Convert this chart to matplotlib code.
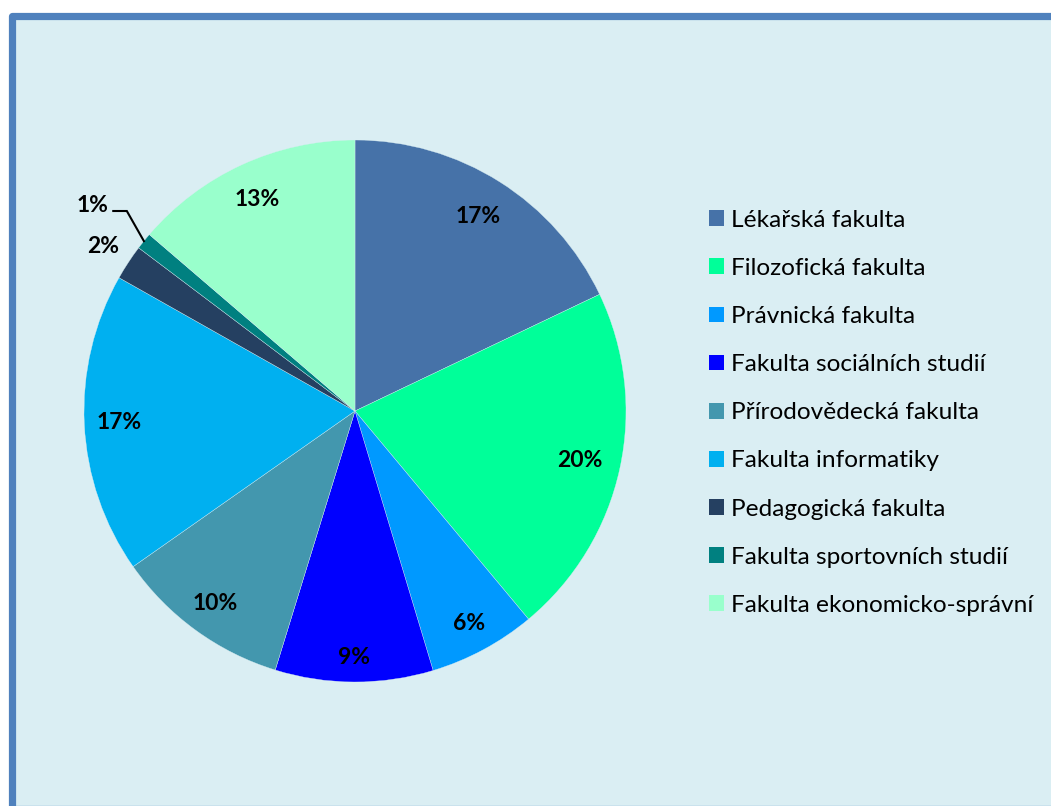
import numpy as np
import matplotlib.pyplot as plt
from matplotlib.patches import Rectangle, Patch

# Faculty shares (percent)
faculties = ["Lékařská fakulta", "Filozofická fakulta", "Právnická fakulta",
             "Fakulta sociálních studií", "Přírodovědecká fakulta", "Fakulta informatiky",
             "Pedagogická fakulta", "Fakulta sportovních studií", "Fakulta ekonomicko-správní"]
shares = [17.9, 21.0, 6.4, 9.4, 10.5, 17.9, 2.1, 1.0, 13.7]
pct_labels = ["17%", "20%", "6%", "9%", "10%", "17%", "2%", "1%", "13%"]

colors = ["#4672A8", "#00FF99", "#0099FF", "#0000FF", "#4397AE",
          "#00B0F0", "#254061", "#008080", "#99FFCC"]
label_r = [0.85, 0.85, 0.89, 0.91, 0.88, 0.87, 1.11, 1.23, 0.86]

W, H = 1051, 806
fig = plt.figure(figsize=(W / 100, H / 100), dpi=100, facecolor="white")

# framed panel
frame = Rectangle((12 / W, 1 - 809 / H), 1060 / W, (809 - 15.5) / H, transform=fig.transFigure,
                  facecolor="#DAEEF3", edgecolor="#4F81BD", linewidth=5.2, joinstyle="round",
                  zorder=-5)
fig.patches.append(frame)

cx, cy, R = 355, 411, 271
ax = fig.add_axes([(cx - R) / W, (H - cy - R) / H, 2 * R / W, 2 * R / H])
ax.set_zorder(2)
ax.set_facecolor("none")
wedges, _ = ax.pie(shares, colors=colors, startangle=90, counterclock=False, radius=1,
                   wedgeprops=dict(edgecolor="#DAEEF3", linewidth=0.25))
ax.set_xlim(-1, 1)
ax.set_ylim(-1, 1)
ax.set_aspect("equal")
ax.axis("off")

for w, lab, r in zip(wedges, pct_labels, label_r):
    mid = np.deg2rad((w.theta1 + w.theta2) / 2)
    x, y = r * np.cos(mid), r * np.sin(mid)
    if lab == "1%":
        x, y = -0.967, 0.76
        ex, ey = np.cos(mid), np.sin(mid)
        ax.plot([x + 0.075, x + 0.125, ex], [y - 0.022, y - 0.022, ey], color="black", lw=1.5,
                solid_joinstyle="miter")
    ax.text(x, y, lab, ha="center", va="center", fontsize=16.5, fontweight="bold",
            family="Lato", color="black", clip_on=False)

handles = [Patch(facecolor=c, edgecolor="none") for c in colors]
fig.legend(handles, faculties, loc="upper left", bbox_to_anchor=(699 / W, 1 - 200 / H),
           frameon=False, prop=dict(family="Lato", size=17.6), handlelength=0.62,
           handleheight=0.62, handletextpad=0.3, labelspacing=1.11, borderaxespad=0)

fig.savefig("out.png", dpi=100, facecolor="white")
